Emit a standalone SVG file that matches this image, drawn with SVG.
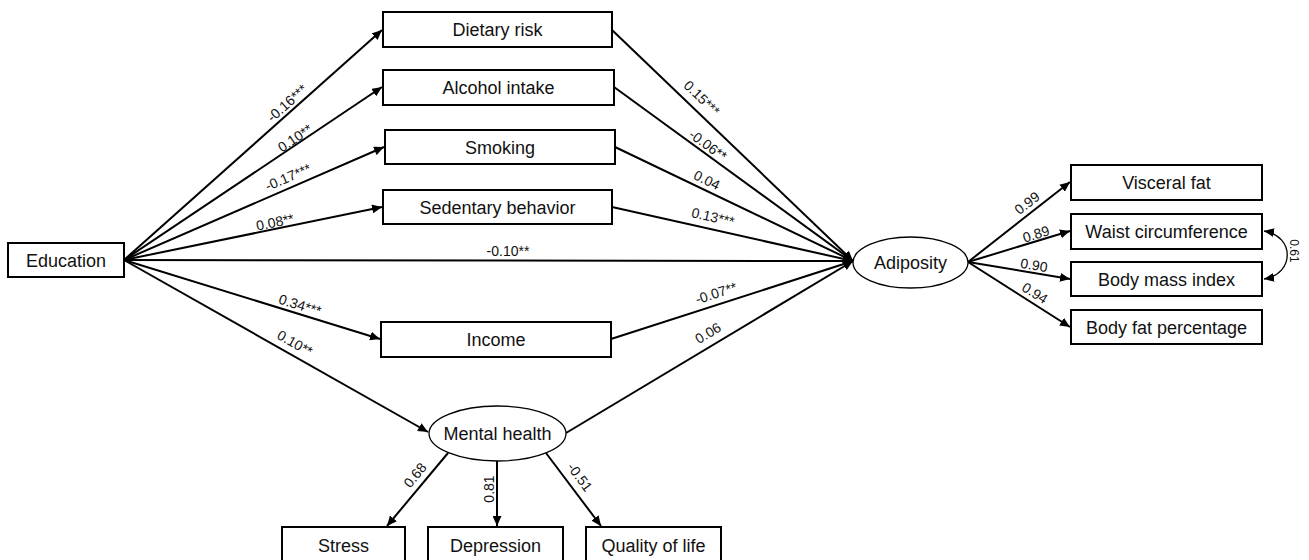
<svg xmlns="http://www.w3.org/2000/svg" width="1309" height="560" viewBox="0 0 1309 560">
<style>
.box{fill:#fff;stroke:#000;stroke-width:2}
.ell{fill:#fff;stroke:#000;stroke-width:1.3}
.nt{font-family:"Liberation Sans",Arial,sans-serif;font-size:18px;fill:#111;text-anchor:middle}
.lt{font-family:"Liberation Sans",Arial,sans-serif;font-size:14px;fill:#111;text-anchor:middle}
.ln{fill:none;stroke:#000;stroke-width:2}
</style>
<defs>
<marker id="ah" markerUnits="userSpaceOnUse" markerWidth="11" markerHeight="9" refX="10" refY="4.5" orient="auto-start-reverse">
<path d="M0,0 L10,4.5 L0,9 z" fill="#000"/>
</marker>
</defs>
<g id="connectors">
<line class="ln" x1="124" y1="260" x2="382" y2="30" marker-end="url(#ah)"/>
<line class="ln" x1="124" y1="260" x2="382" y2="87" marker-end="url(#ah)"/>
<line class="ln" x1="124" y1="260" x2="384" y2="147" marker-end="url(#ah)"/>
<line class="ln" x1="124" y1="260" x2="382" y2="207" marker-end="url(#ah)"/>
<line class="ln" x1="124" y1="260" x2="853" y2="261" marker-end="url(#ah)"/>
<line class="ln" x1="124" y1="260" x2="380" y2="339" marker-end="url(#ah)"/>
<line class="ln" x1="124" y1="260" x2="428" y2="432" marker-end="url(#ah)"/>
<line class="ln" x1="612" y1="30" x2="853" y2="261" marker-end="url(#ah)"/>
<line class="ln" x1="614" y1="87" x2="853" y2="261" marker-end="url(#ah)"/>
<line class="ln" x1="615" y1="147" x2="853" y2="261" marker-end="url(#ah)"/>
<line class="ln" x1="612" y1="207" x2="853" y2="261" marker-end="url(#ah)"/>
<line class="ln" x1="611" y1="339" x2="853" y2="261" marker-end="url(#ah)"/>
<line class="ln" x1="566" y1="433" x2="853" y2="261" marker-end="url(#ah)"/>
<line class="ln" x1="968" y1="262" x2="1070" y2="182" marker-end="url(#ah)"/>
<line class="ln" x1="968" y1="262" x2="1070" y2="231" marker-end="url(#ah)"/>
<line class="ln" x1="968" y1="262" x2="1070" y2="279" marker-end="url(#ah)"/>
<line class="ln" x1="968" y1="262" x2="1070" y2="327" marker-end="url(#ah)"/>
<line class="ln" x1="448" y1="453" x2="387" y2="526" marker-end="url(#ah)"/>
<line class="ln" x1="497" y1="461" x2="497" y2="526" marker-end="url(#ah)"/>
<line class="ln" x1="546" y1="453" x2="601" y2="526" marker-end="url(#ah)"/>
<path fill="none" stroke="#000" stroke-width="1.3" d="M1264,231 C1295,236 1295,274 1264,279" marker-start="url(#ah)" marker-end="url(#ah)"/>
</g>
<g id="labels">
<text class="lt" transform="translate(287,103) rotate(-41.7)" y="5">-0.16***</text>
<text class="lt" transform="translate(295,138) rotate(-33.7)" y="5">0.10**</text>
<text class="lt" transform="translate(288,177) rotate(-23.4)" y="5">-0.17***</text>
<text class="lt" transform="translate(275,222) rotate(-11.6)" y="5">0.08**</text>
<text class="lt" transform="translate(508,251)" y="5">-0.10**</text>
<text class="lt" transform="translate(300,305) rotate(17.2)" y="5">0.34***</text>
<text class="lt" transform="translate(295,343) rotate(29.6)" y="5">0.10**</text>
<text class="lt" transform="translate(702,98) rotate(44)" y="5">0.15***</text>
<text class="lt" transform="translate(708,145) rotate(36.2)" y="5">-0.06**</text>
<text class="lt" transform="translate(707,180) rotate(25.8)" y="5">0.04</text>
<text class="lt" transform="translate(713,217) rotate(12.9)" y="5">0.13***</text>
<text class="lt" transform="translate(716,293) rotate(-17.8)" y="5">-0.07**</text>
<text class="lt" transform="translate(708,333) rotate(-30.8)" y="5">0.06</text>
<text class="lt" transform="translate(1027,203) rotate(-37.8)" y="5">0.99</text>
<text class="lt" transform="translate(1036,234) rotate(-16.7)" y="5">0.89</text>
<text class="lt" transform="translate(1034,265) rotate(9.4)" y="5">0.90</text>
<text class="lt" transform="translate(1035,293) rotate(32.3)" y="5">0.94</text>
<text class="lt" transform="translate(1294,251) rotate(90)" y="4" style="font-size:12px">0.61</text>
<text class="lt" transform="translate(415,475) rotate(-50.5)" y="5">0.68</text>
<text class="lt" transform="translate(489,489) rotate(-90)" y="5">0.81</text>
<text class="lt" transform="translate(580,477) rotate(53.4)" y="5">-0.51</text>
</g>
<g id="education"><rect class="box" x="8" y="243" width="116" height="34"/><text class="nt" x="66" y="266.5">Education</text></g>
<g id="dietary-risk"><rect class="box" x="383" y="12" width="229" height="35"/><text class="nt" x="497.5" y="36">Dietary risk</text></g>
<g id="alcohol-intake"><rect class="box" x="383" y="70" width="231" height="35"/><text class="nt" x="498.5" y="94">Alcohol intake</text></g>
<g id="smoking"><rect class="box" x="385" y="130" width="230" height="34"/><text class="nt" x="500" y="153.5">Smoking</text></g>
<g id="sedentary-behavior"><rect class="box" x="383" y="190" width="229" height="34"/><text class="nt" x="497.5" y="213.5">Sedentary behavior</text></g>
<g id="income"><rect class="box" x="381" y="322" width="230" height="35"/><text class="nt" x="496" y="346">Income</text></g>
<g id="mental-health"><ellipse class="ell" cx="497.5" cy="433.5" rx="68.5" ry="27.5"/><text class="nt" x="497.5" y="440">Mental health</text></g>
<g id="stress"><rect class="box" x="282" y="527" width="123" height="40"/><text class="nt" x="343.5" y="552">Stress</text></g>
<g id="depression"><rect class="box" x="428" y="527" width="135" height="40"/><text class="nt" x="495.5" y="552">Depression</text></g>
<g id="quality-of-life"><rect class="box" x="586" y="527" width="135" height="40"/><text class="nt" x="653.5" y="552">Quality of life</text></g>
<g id="adiposity"><ellipse class="ell" cx="910.5" cy="262.5" rx="57.5" ry="25.5"/><text class="nt" x="910.5" y="269">Adiposity</text></g>
<g id="visceral-fat"><rect class="box" x="1071" y="165" width="191" height="35"/><text class="nt" x="1166.5" y="189">Visceral fat</text></g>
<g id="waist-circumference"><rect class="box" x="1071" y="214" width="191" height="35"/><text class="nt" x="1166.5" y="238">Waist circumference</text></g>
<g id="body-mass-index"><rect class="box" x="1071" y="262" width="191" height="34"/><text class="nt" x="1166.5" y="285.5">Body mass index</text></g>
<g id="body-fat-percentage"><rect class="box" x="1071" y="310" width="191" height="34"/><text class="nt" x="1166.5" y="333.5">Body fat percentage</text></g>
</svg>
